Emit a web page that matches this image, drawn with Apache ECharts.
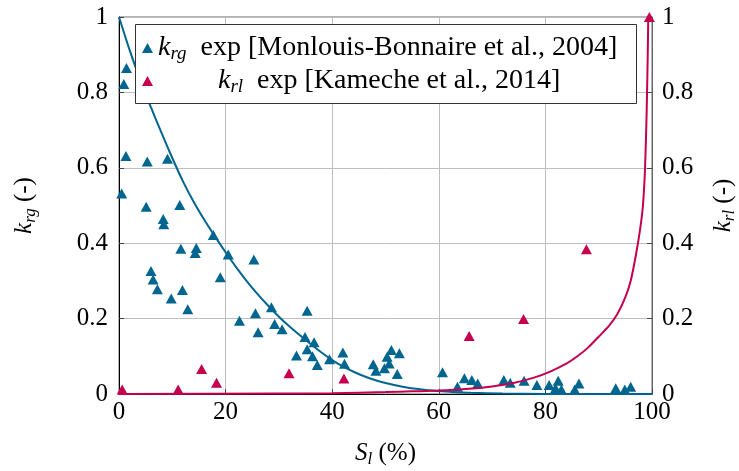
<!DOCTYPE html>
<html><head><meta charset="utf-8">
<script src="https://cdn.jsdelivr.net/npm/echarts@6/dist/echarts.min.js"></script>
<style>html,body{margin:0;padding:0;background:#fff}#c{width:739px;height:471px}</style>
</head><body><div id="c"></div>
<script>
// Experimental points: [S_l (%), k]
const krgExp = [[0.5,0.532],[0.9,0.822],[1.4,0.865],[1.3,0.631],[5.3,0.617],[9.1,0.624],[5.1,0.497],[11.4,0.501],
  [8.3,0.464],[8.4,0.45],[11.6,0.385],[14.5,0.387],[14.3,0.374],[17.7,0.422],[20.5,0.37],[25.3,0.357],[19,0.31],
  [6,0.326],[6.4,0.304],[7.2,0.278],[9.8,0.253],[11.9,0.276],[12.9,0.225],[22.6,0.194],[25.6,0.214],[26.1,0.164],
  [28.6,0.23],[29.2,0.186],[30.6,0.172],[35.3,0.221],[34.9,0.151],[36.6,0.137],[35.3,0.119],[36.3,0.10],[37.2,0.077],
  [33.3,0.102],[39.5,0.092],[42,0.11],[42.3,0.08],[47.7,0.079],[48.2,0.062],[49.8,0.068],[50.7,0.081],[50.3,0.099],
  [51.1,0.117],[52.6,0.108],[52.2,0.053],[60.7,0.058],[64.8,0.042],[66.2,0.037],[67.3,0.028],[63.5,0.019],[72.2,0.037],
  [73.4,0.03],[76,0.035],[78.4,0.024],[80.7,0.024],[82.4,0.035],[81.9,0.015],[83,0.012],[86.3,0.028],[85.5,0.012],
  [93.2,0.015],[94.9,0.012],[96,0.019]];
const krlExp = [[0.6,0.012],[11.1,0.012],[15.5,0.066],[18.3,0.03],[31.9,0.055],[42.2,0.041],[65.7,0.154],
  [75.9,0.199],[87.7,0.384],[99.5,1.0]];
// Model curves
const krgModel = [[0,1],[2,0.912],[4,0.832],[6,0.76],[8,0.692],[10,0.626],[12,0.564],[14,0.51],[16,0.462],
  [18,0.418],[20,0.376],[22,0.336],[24,0.299],[26,0.265],[28,0.234],[30,0.205],[32,0.179],[34,0.155],[36,0.132],
  [38,0.11],[40,0.09],[42,0.073],[44,0.059],[46,0.047],[48,0.037],[50,0.029],[54,0.017],[58,0.01],[62,0.006],
  [66,0.003],[72,0.001],[80,0.0002],[100,0]];
const krlModel = [[0,0],[30,0.001],[40,0.002],[50,0.005],[55,0.007],[60,0.009],[65,0.013],[70,0.02],[74,0.029],
  [78,0.044],[81,0.06],[84,0.081],[86,0.1],[88,0.123],[90,0.152],[92,0.182],[93.5,0.212],[95,0.257],[96,0.3],
  [97,0.37],[97.8,0.44],[98.3,0.5],[98.7,0.6],[99,0.75],[99.2,0.9],[99.3,1.0]];
const xTicks = [0,20,40,60,80,100];
const yTicks = [0,0.2,0.4,0.6,0.8,1];
const nameKrg = 'krg exp [Monlouis-Bonnaire et al., 2004]';
const nameKrl = 'krl exp [Kameche et al., 2014]';

const FONT = 'Liberation Serif';
const BLUE = '#00668f';
const RED = '#c4004f';
function richSet(size) {
  return {
    i: {fontFamily: FONT, fontStyle: 'italic', fontSize: size, lineHeight: 30, color: '#000'},
    s: {fontFamily: FONT, fontStyle: 'italic', fontSize: Math.round(size * 0.68), verticalAlign: 'bottom', lineHeight: 20, color: '#000'},
    t: {fontFamily: FONT, fontSize: size, lineHeight: 30, color: '#000'},
    sp: {width: 60, fontSize: size, lineHeight: 30}
  };
}
const chart = echarts.init(document.getElementById('c'));
chart.setOption({
  animation: false,
  backgroundColor: '#fff',
  grid: {left: 119, right: 87, top: 17, bottom: 77, show: true, borderColor: '#666', borderWidth: 1,
    containLabel: false, outerBoundsMode: 'none'},
  graphic: [{
    type: 'rect', z: 100,
    shape: {x: 135.5, y: 24.5, width: 501, height: 79},
    style: {fill: '#fff', stroke: '#333', lineWidth: 1}
  }],
  legend: {
    left: 142, top: 34, orient: 'vertical', z: 110,
    padding: 0, itemGap: 4, itemWidth: 11, itemHeight: 10,
    data: [{name: nameKrg, icon: 'triangle'}, {name: nameKrl, icon: 'triangle'}],
    formatter: function (n) {
      if (n === nameKrg) return '{i|k}{s|rg}{t|  exp [Monlouis-Bonnaire et al., 2004]}';
      return '{sp| }{i|k}{s|rl}{t|  exp [Kameche et al., 2014]}';
    },
    textStyle: {fontFamily: FONT, fontSize: 28, rich: richSet(28)}
  },
  xAxis: {
    type: 'value', min: 0, max: 100, interval: 20,
    name: '{i|S}{s|l}{t| (%)}', nameLocation: 'middle', nameGap: 44,
    nameTextStyle: {fontFamily: FONT, fontSize: 25, rich: richSet(25)},
    axisLine: {lineStyle: {color: '#000', width: 1}},
    axisTick: {inside: true, length: 5, lineStyle: {color: '#444'}},
    axisLabel: {fontFamily: FONT, fontSize: 25, color: '#000', margin: 6,
      formatter: v => xTicks.includes(v) ? String(v) : ''},
    splitLine: {lineStyle: {color: '#bdbdbd', width: 1}}
  },
  yAxis: [{
    type: 'value', min: 0, max: 1, interval: 0.2, position: 'left',
    name: '{i|k}{s|rg}{t| (-)}', nameLocation: 'middle', nameGap: 80, nameRotate: 90,
    nameTextStyle: {fontFamily: FONT, fontSize: 25, rich: richSet(25)},
    axisLine: {show: true, lineStyle: {color: '#000', width: 1}},
    axisTick: {show: true, inside: true, length: 5, lineStyle: {color: '#444'}},
    axisLabel: {fontFamily: FONT, fontSize: 25, color: '#000', margin: 11,
      formatter: v => String(yTicks.find(t => Math.abs(t - v) < 1e-9))},
    splitLine: {lineStyle: {color: '#bdbdbd', width: 1}}
  }, {
    type: 'value', min: 0, max: 1, interval: 0.2, position: 'right',
    name: '{i|k}{s|rl}{t| (-)}', nameLocation: 'middle', nameGap: 56, nameRotate: 90,
    nameTextStyle: {fontFamily: FONT, fontSize: 25, rich: richSet(25)},
    axisLine: {show: true, lineStyle: {color: '#666', width: 1}},
    axisTick: {show: true, inside: true, length: 5, lineStyle: {color: '#444'}},
    axisLabel: {fontFamily: FONT, fontSize: 25, color: '#000', margin: 10,
      formatter: v => String(yTicks.find(t => Math.abs(t - v) < 1e-9))},
    splitLine: {show: false}
  }],
  series: [
    {name: nameKrg, type: 'scatter', yAxisIndex: 0, data: krgExp, symbol: 'triangle', symbolSize: [11, 10],
      itemStyle: {color: BLUE, opacity: 1}, z: 3},
    {name: nameKrl, type: 'scatter', yAxisIndex: 1, data: krlExp, symbol: 'triangle', symbolSize: [11, 10],
      itemStyle: {color: RED, opacity: 1}, z: 3, clip: false},
    {name: 'krg model', type: 'line', yAxisIndex: 0, data: krgModel, smooth: 0.25,
      showSymbol: false, lineStyle: {color: BLUE, width: 2}, clip: false, z: 4},
    {name: 'krl model', type: 'line', yAxisIndex: 1, data: krlModel, smooth: 0.25,
      showSymbol: false, lineStyle: {color: RED, width: 2}, clip: false, z: 4}
  ]
});
</script></body></html>
